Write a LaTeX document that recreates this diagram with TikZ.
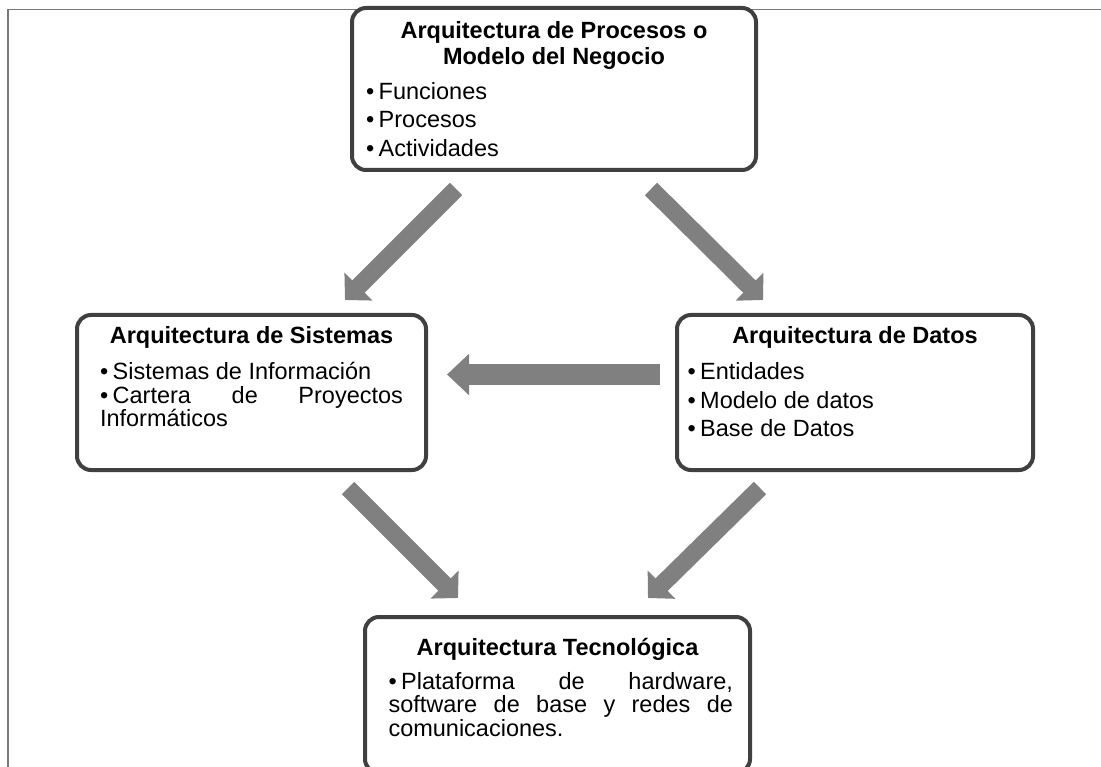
\documentclass[tikz,border=0pt]{standalone}
\usepackage{fontspec}
\setmainfont{Liberation Sans}
\usetikzlibrary{arrows.meta}
\definecolor{arrowgray}{RGB}{128,128,128}
\definecolor{boxline}{RGB}{64,64,64}
\definecolor{framecol}{RGB}{120,120,120}
\newcommand{\bul}{\textbullet\kern4.5pt}
\tikzset{
  archbox/.style={draw=boxline, line width=4pt, rounded corners=14pt, fill=white,
    anchor=north west, inner ysep=0pt, outer sep=0pt},
  diagarrow/.style={draw=arrowgray, line width=17.5pt, -{Triangle[length=19pt,width=38.5pt]}},
  horizarrow/.style={draw=arrowgray, line width=21pt, -{Triangle[length=22pt,width=40pt]}}
}
\begin{document}
\begin{tikzpicture}[x=1pt,y=-1pt]
\useasboundingbox (0,0) rectangle (1101,767);
\clip (0,0) rectangle (1101,767);
\draw[framecol, line width=1.1pt] (1101,9.5) -- (8,9.5) -- (8,767);

% top box
\node[archbox, inner xsep=14pt] (proc) at (352,8) {%
\begin{minipage}[t][162pt][t]{376pt}
\parindent0pt\parskip0pt
\fontsize{23.5}{25.5}\selectfont
{\centering\bfseries\rule{0pt}{31pt}Arquitectura de Procesos o\\Modelo del Negocio\par}
\vspace{6.5pt}
\fontsize{23.5}{28.5}\selectfont
\bul Funciones\par
\bul Procesos\par
\bul Actividades\par
\end{minipage}};

% left box
\node[archbox, inner xsep=23pt] (sist) at (77,315) {%
\begin{minipage}[t][155pt][t]{303pt}
\parindent0pt\parskip0pt
\fontsize{23.5}{23.5}\selectfont
{\centering\bfseries\rule{0pt}{29pt}Arquitectura de Sistemas\par}
\vspace{12.5pt}
\bul Sistemas de Información\par
\bul Cartera de Proyectos\linebreak Informáticos\par
\end{minipage}};

% right box
\node[archbox, inner xsep=10.5pt] (datos) at (677,315) {%
\begin{minipage}[t][155pt][t]{335pt}
\parindent0pt\parskip0pt
\fontsize{23.5}{23.5}\selectfont
{\centering\bfseries\rule{0pt}{29pt}Arquitectura de Datos\par}
\vspace{7.5pt}
\fontsize{23.5}{28.5}\selectfont
\bul Entidades\par
\bul Modelo de datos\par
\bul Base de Datos\par
\end{minipage}};

% bottom box
\node[archbox, inner xsep=17pt] (tec) at (365,617) {%
\begin{minipage}[t][156pt][t]{351pt}
\parindent0pt\parskip0pt
\fontsize{23.5}{23.5}\selectfont
{\centering\bfseries\rule{0pt}{38pt}Arquitectura Tecnológica\par}
\vspace{10.5pt}
{\leftskip=6.5pt
\bul Plataforma de hardware,\linebreak software de base y redes de\linebreak comunicaciones.\par}
\end{minipage}};

% arrow end points
\coordinate (a1s) at (456,189);
\coordinate (a1e) at (345,300);
\coordinate (a2s) at (651,189);
\coordinate (a2e) at (763,300);
\coordinate (a3s) at (660,374.5);
\coordinate (a3e) at (447,374.5);
\coordinate (a4s) at (348,488);
\coordinate (a4e) at (458,598);
\coordinate (a5s) at (760,488);
\coordinate (a5e) at (648,598);

\draw[diagarrow] (a1s) -- (a1e);
\draw[diagarrow] (a2s) -- (a2e);
\draw[horizarrow] (a3s) -- (a3e);
\draw[diagarrow] (a4s) -- (a4e);
\draw[diagarrow] (a5s) -- (a5e);
\end{tikzpicture}
\end{document}
